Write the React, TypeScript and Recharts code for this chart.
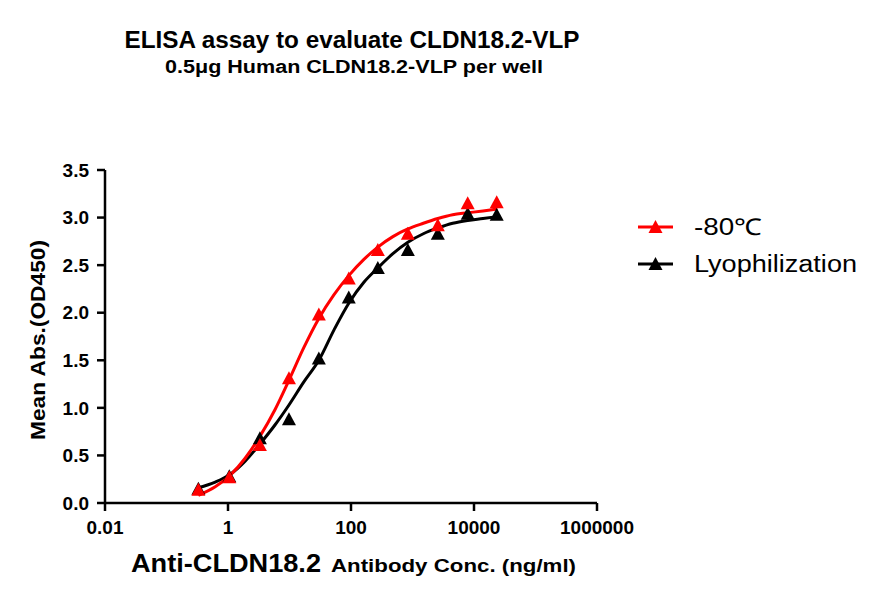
import React from 'react';
import { ComposedChart, Line, Scatter, XAxis, YAxis } from 'recharts';

// Measured points (ng/ml, OD450)
const conc = [0.33, 1.05, 3.3, 9.8, 30, 92, 273, 840, 2580, 7900, 23400];
const minus80 = [0.14, 0.27, 0.61, 1.31, 1.98, 2.36, 2.66, 2.83, 2.92, 3.15, 3.16];
const lyo = [0.15, 0.28, 0.68, 0.88, 1.52, 2.16, 2.47, 2.66, 2.83, 3.04, 3.03];

// Fitted curves
const fitConc = [0.33, 0.62, 1.08, 1.9, 3.3, 5.8, 9.8, 17, 30, 53, 92, 162, 273, 480, 840, 1500, 2580, 4500, 7900, 14000, 24000];
const fitMinus80 = [0.08, 0.17, 0.29, 0.47, 0.7, 0.98, 1.29, 1.63, 1.94, 2.19, 2.39, 2.56, 2.69, 2.8, 2.88, 2.94, 2.99, 3.03, 3.05, 3.07, 3.09];
const fitLyo = [0.16, 0.22, 0.3, 0.44, 0.62, 0.82, 1.03, 1.27, 1.5, 1.82, 2.1, 2.32, 2.47, 2.62, 2.74, 2.83, 2.89, 2.94, 2.97, 2.99, 3.01];

const xTicks = [0.01, 1, 100, 10000, 1000000];
const yTicks = [0, 0.5, 1, 1.5, 2, 2.5, 3, 3.5];

const seriesNames = ['-80\u2103', 'Lyophilization'];
const seriesColors = ['#ff0000', '#000000'];

const pts = (xs: number[], ys: number[]) => xs.map((x, i) => ({ x, y: ys[i] }));

const redPts = pts(conc, minus80);
const blackPts = pts(conc, lyo);
const redFit = pts(fitConc, fitMinus80);
const blackFit = pts(fitConc, fitLyo);

const FONT = '"Liberation Sans", Arial, sans-serif';

const triPoints = (cx: number, cy: number) =>
  `${cx},${cy - 7} ${cx - 7},${cy + 6} ${cx + 7},${cy + 6}`;

const makeTri = (color: string) => (props: any) => {
  const { cx, cy } = props;
  if (cx == null || cy == null) return <g />;
  return <polygon points={triPoints(cx, cy)} fill={color} />;
};

export default function App() {
  return (
    <div style={{ position: 'absolute', left: 0, top: 0, width: 883, height: 604, background: '#fff' }}>
      <ComposedChart
        width={883}
        height={604}
        margin={{ top: 170, right: 286, left: 0, bottom: 0 }}
        style={{ fontFamily: FONT }}
      >
        <XAxis
          dataKey="x"
          type="number"
          scale="log"
          domain={[0.01, 1000000]}
          ticks={xTicks}
          allowDataOverflow
          height={101}
          tickSize={8}
          tickMargin={10}
          stroke="#000"
          strokeWidth={2.5}
          tickLine={{ stroke: '#000', strokeWidth: 2.5 }}
          tick={{ fill: '#000', fontSize: 19, fontWeight: 'bold', fontFamily: FONT }}
          tickFormatter={(v: number) => String(v)}
          interval={0}
        />
        <YAxis
          dataKey="y"
          type="number"
          domain={[0, 3.5]}
          ticks={yTicks}
          width={105}
          tickSize={8}
          tickMargin={8}
          stroke="#000"
          strokeWidth={2.5}
          tickLine={{ stroke: '#000', strokeWidth: 2.5 }}
          tick={{ fill: '#000', fontSize: 19, fontWeight: 'bold', fontFamily: FONT }}
          tickFormatter={(v: number) => v.toFixed(1)}
          interval={0}
        />
        <Line data={blackFit} dataKey="y" type="monotone" stroke={seriesColors[1]} strokeWidth={3} dot={false} activeDot={false} isAnimationActive={false} />
        <Scatter data={blackPts} dataKey="y" shape={makeTri(seriesColors[1])} isAnimationActive={false} />
        <Line data={redFit} dataKey="y" type="monotone" stroke={seriesColors[0]} strokeWidth={3} dot={false} activeDot={false} isAnimationActive={false} />
        <Scatter data={redPts} dataKey="y" shape={makeTri(seriesColors[0])} isAnimationActive={false} />
      </ComposedChart>
      <svg
        width={883}
        height={604}
        style={{ position: 'absolute', left: 0, top: 0, pointerEvents: 'none', fontFamily: FONT }}
      >
        <text x={352} y={48} textAnchor="middle" fontSize={23} fontWeight="bold" fill="#000" textLength={455} lengthAdjust="spacingAndGlyphs">
          ELISA assay to evaluate CLDN18.2-VLP
        </text>
        <text x={354} y={73} textAnchor="middle" fontSize={18} fontWeight="bold" fill="#000" textLength={378} lengthAdjust="spacingAndGlyphs">
          0.5μg Human CLDN18.2-VLP per well
        </text>
        <text x={131} y={572} fontSize={25} fontWeight="bold" fill="#000" textLength={190} lengthAdjust="spacingAndGlyphs">
          Anti-CLDN18.2
        </text>
        <text x={331} y={572} fontSize={19} fontWeight="bold" fill="#000" textLength={245} lengthAdjust="spacingAndGlyphs">
          Antibody Conc. (ng/ml)
        </text>
        <text
          x={0}
          y={0}
          transform="translate(45,340) rotate(-90)"
          textAnchor="middle"
          fontSize={21}
          fontWeight="bold"
          fill="#000"
          textLength={200}
          lengthAdjust="spacingAndGlyphs"
        >
          Mean Abs.(OD450)
        </text>
        {seriesNames.map((name, i) => {
          const cy = i === 0 ? 227 : 264;
          return (
            <g key={name}>
              <line x1={638} x2={673} y1={cy} y2={cy} stroke={seriesColors[i]} strokeWidth={3} />
              <polygon points={triPoints(655.5, cy)} fill={seriesColors[i]} />
              <text x={694} y={cy + 8} fontSize={23} fill="#000" textLength={i === 0 ? 68 : 163} lengthAdjust="spacingAndGlyphs">
                {name}
              </text>
            </g>
          );
        })}
      </svg>
    </div>
  );
}
